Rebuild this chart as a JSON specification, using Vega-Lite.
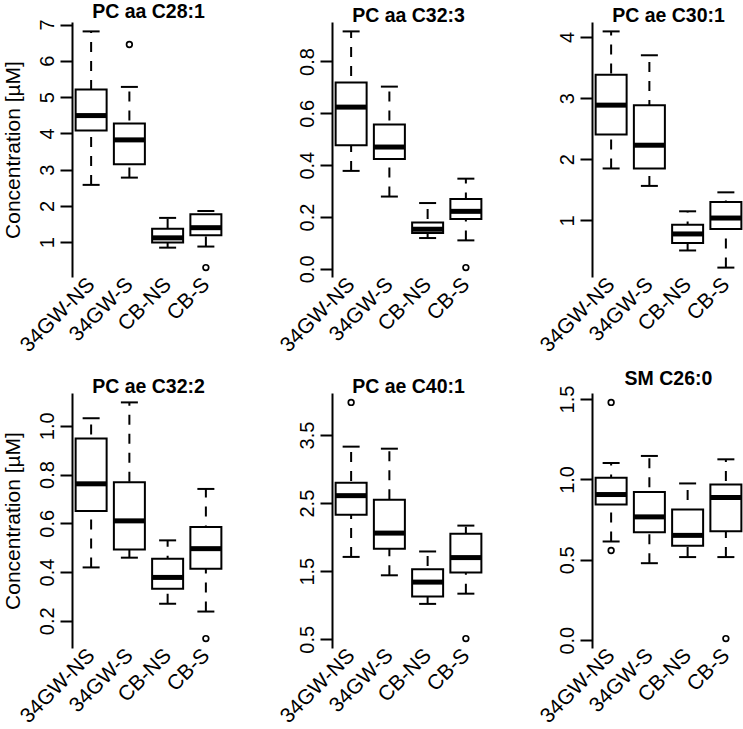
{
  "$schema": "https://vega.github.io/schema/vega-lite/v6.json",
  "background": "white",
  "padding": {"left": 2, "top": 2, "right": 0, "bottom": 0},
  "datasets": {
    "boxes": [
      {"panel": "PC aa C28:1", "group": "34GW-NS", "lo": 2.58, "q1": 4.08, "med": 4.49, "q3": 5.21, "hi": 6.81},
      {"panel": "PC aa C28:1", "group": "34GW-S", "lo": 2.78, "q1": 3.15, "med": 3.82, "q3": 4.27, "hi": 5.28},
      {"panel": "PC aa C28:1", "group": "CB-NS", "lo": 0.85, "q1": 0.99, "med": 1.12, "q3": 1.37, "hi": 1.67},
      {"panel": "PC aa C28:1", "group": "CB-S", "lo": 0.88, "q1": 1.19, "med": 1.40, "q3": 1.77, "hi": 1.86},
      {"panel": "PC aa C32:3", "group": "34GW-NS", "lo": 0.378, "q1": 0.477, "med": 0.624, "q3": 0.719, "hi": 0.916},
      {"panel": "PC aa C32:3", "group": "34GW-S", "lo": 0.279, "q1": 0.424, "med": 0.47, "q3": 0.557, "hi": 0.703},
      {"panel": "PC aa C32:3", "group": "CB-NS", "lo": 0.119, "q1": 0.138, "med": 0.153, "q3": 0.179, "hi": 0.254},
      {"panel": "PC aa C32:3", "group": "CB-S", "lo": 0.11, "q1": 0.192, "med": 0.222, "q3": 0.27, "hi": 0.348},
      {"panel": "PC ae C30:1", "group": "34GW-NS", "lo": 1.85, "q1": 2.405, "med": 2.885, "q3": 3.38, "hi": 4.09},
      {"panel": "PC ae C30:1", "group": "34GW-S", "lo": 1.565, "q1": 1.85, "med": 2.23, "q3": 2.885, "hi": 3.70},
      {"panel": "PC ae C30:1", "group": "CB-NS", "lo": 0.51, "q1": 0.63, "med": 0.78, "q3": 0.93, "hi": 1.15},
      {"panel": "PC ae C30:1", "group": "CB-S", "lo": 0.23, "q1": 0.86, "med": 1.04, "q3": 1.30, "hi": 1.46},
      {"panel": "PC ae C32:2", "group": "34GW-NS", "lo": 0.419, "q1": 0.65, "med": 0.762, "q3": 0.948, "hi": 1.031},
      {"panel": "PC ae C32:2", "group": "34GW-S", "lo": 0.459, "q1": 0.493, "med": 0.61, "q3": 0.768, "hi": 1.096},
      {"panel": "PC ae C32:2", "group": "CB-NS", "lo": 0.27, "q1": 0.332, "med": 0.378, "q3": 0.455, "hi": 0.53},
      {"panel": "PC ae C32:2", "group": "CB-S", "lo": 0.238, "q1": 0.414, "med": 0.496, "q3": 0.585, "hi": 0.741},
      {"panel": "PC ae C40:1", "group": "34GW-NS", "lo": 1.71, "q1": 2.33, "med": 2.61, "q3": 2.80, "hi": 3.33},
      {"panel": "PC ae C40:1", "group": "34GW-S", "lo": 1.44, "q1": 1.83, "med": 2.06, "q3": 2.55, "hi": 3.30},
      {"panel": "PC ae C40:1", "group": "CB-NS", "lo": 1.02, "q1": 1.13, "med": 1.34, "q3": 1.53, "hi": 1.79},
      {"panel": "PC ae C40:1", "group": "CB-S", "lo": 1.17, "q1": 1.48, "med": 1.70, "q3": 2.05, "hi": 2.17},
      {"panel": "SM C26:0", "group": "34GW-NS", "lo": 0.614, "q1": 0.844, "med": 0.906, "q3": 1.011, "hi": 1.102},
      {"panel": "SM C26:0", "group": "34GW-S", "lo": 0.479, "q1": 0.671, "med": 0.767, "q3": 0.921, "hi": 1.146},
      {"panel": "SM C26:0", "group": "CB-NS", "lo": 0.517, "q1": 0.5875, "med": 0.652, "q3": 0.8125, "hi": 0.975},
      {"panel": "SM C26:0", "group": "CB-S", "lo": 0.517, "q1": 0.677, "med": 0.8875, "q3": 0.969, "hi": 1.125}
    ],
    "outliers": [
      {"panel": "PC aa C28:1", "group": "34GW-S", "value": 6.45},
      {"panel": "PC aa C28:1", "group": "CB-S", "value": 0.30},
      {"panel": "PC aa C32:3", "group": "CB-S", "value": 0.005},
      {"panel": "PC ae C32:2", "group": "CB-S", "value": 0.127},
      {"panel": "PC ae C40:1", "group": "34GW-NS", "value": 3.98},
      {"panel": "PC ae C40:1", "group": "CB-S", "value": 0.51},
      {"panel": "SM C26:0", "group": "34GW-NS", "value": 1.479},
      {"panel": "SM C26:0", "group": "34GW-NS", "value": 0.558},
      {"panel": "SM C26:0", "group": "CB-S", "value": 0.01}
    ]
  },
  "columns": 3,
  "spacing": {"row": 116, "column": 107},
  "bounds": "flush",
  "concat": [
    {
      "width": 153, "height": 255,
      "title": "PC aa C28:1",
      "encoding": {"x": {"field": "group", "type": "nominal", "title": null, "scale": {"type": "point", "padding": 0.5, "domain": ["34GW-NS", "34GW-S", "CB-NS", "CB-S"]}}},
      "layer": [
        {"data": {"name": "boxes"}, "transform": [{"filter": "datum.panel === 'PC aa C28:1'"}],
         "mark": {"type": "rule", "strokeDash": [10, 9], "strokeWidth": 2, "color": "black", "opacity": 1},
         "encoding": {"y": {"field": "lo", "type": "quantitative", "title": "Concentration [µM]", "scale": {"zero": false, "nice": false, "padding": 9.4}, "axis": {"values": [1, 2, 3, 4, 5, 6, 7], "format": "d"}}, "y2": {"field": "hi"}}},
        {"data": {"name": "boxes"}, "transform": [{"filter": "datum.panel === 'PC aa C28:1'"}],
         "mark": {"type": "tick", "size": 17, "thickness": 2, "color": "black", "opacity": 1},
         "encoding": {"y": {"field": "lo", "type": "quantitative", "title": "Concentration [µM]"}}},
        {"data": {"name": "boxes"}, "transform": [{"filter": "datum.panel === 'PC aa C28:1'"}],
         "mark": {"type": "tick", "size": 17, "thickness": 2, "color": "black", "opacity": 1},
         "encoding": {"y": {"field": "hi", "type": "quantitative", "title": "Concentration [µM]"}}},
        {"data": {"name": "boxes"}, "transform": [{"filter": "datum.panel === 'PC aa C28:1'"}],
         "mark": {"type": "bar", "size": 31, "fill": "white", "stroke": "black", "strokeWidth": 2, "opacity": 1},
         "encoding": {"y": {"field": "q1", "type": "quantitative", "title": "Concentration [µM]"}, "y2": {"field": "q3"}}},
        {"data": {"name": "boxes"}, "transform": [{"filter": "datum.panel === 'PC aa C28:1'"}],
         "mark": {"type": "tick", "size": 31, "thickness": 5, "color": "black", "opacity": 1},
         "encoding": {"y": {"field": "med", "type": "quantitative", "title": "Concentration [µM]"}}},
        {"data": {"name": "outliers"}, "transform": [{"filter": "datum.panel === 'PC aa C28:1'"}],
         "mark": {"type": "point", "shape": "circle", "filled": false, "stroke": "black", "strokeWidth": 1.7, "size": 32, "opacity": 1},
         "encoding": {"y": {"field": "value", "type": "quantitative", "title": "Concentration [µM]"}}}
      ]
    },
    {
      "width": 153, "height": 255,
      "title": "PC aa C32:3",
      "encoding": {"x": {"field": "group", "type": "nominal", "title": null, "scale": {"type": "point", "padding": 0.5, "domain": ["34GW-NS", "34GW-S", "CB-NS", "CB-S"]}}},
      "layer": [
        {"data": {"name": "boxes"}, "transform": [{"filter": "datum.panel === 'PC aa C32:3'"}],
         "mark": {"type": "rule", "strokeDash": [10, 9], "strokeWidth": 2, "color": "black", "opacity": 1},
         "encoding": {"y": {"field": "lo", "type": "quantitative", "title": null, "scale": {"zero": false, "nice": false, "padding": 9.4}, "axis": {"values": [0, 0.2, 0.4, 0.6, 0.8], "format": ".1f"}}, "y2": {"field": "hi"}}},
        {"data": {"name": "boxes"}, "transform": [{"filter": "datum.panel === 'PC aa C32:3'"}],
         "mark": {"type": "tick", "size": 17, "thickness": 2, "color": "black", "opacity": 1},
         "encoding": {"y": {"field": "lo", "type": "quantitative", "title": null}}},
        {"data": {"name": "boxes"}, "transform": [{"filter": "datum.panel === 'PC aa C32:3'"}],
         "mark": {"type": "tick", "size": 17, "thickness": 2, "color": "black", "opacity": 1},
         "encoding": {"y": {"field": "hi", "type": "quantitative", "title": null}}},
        {"data": {"name": "boxes"}, "transform": [{"filter": "datum.panel === 'PC aa C32:3'"}],
         "mark": {"type": "bar", "size": 31, "fill": "white", "stroke": "black", "strokeWidth": 2, "opacity": 1},
         "encoding": {"y": {"field": "q1", "type": "quantitative", "title": null}, "y2": {"field": "q3"}}},
        {"data": {"name": "boxes"}, "transform": [{"filter": "datum.panel === 'PC aa C32:3'"}],
         "mark": {"type": "tick", "size": 31, "thickness": 5, "color": "black", "opacity": 1},
         "encoding": {"y": {"field": "med", "type": "quantitative", "title": null}}},
        {"data": {"name": "outliers"}, "transform": [{"filter": "datum.panel === 'PC aa C32:3'"}],
         "mark": {"type": "point", "shape": "circle", "filled": false, "stroke": "black", "strokeWidth": 1.7, "size": 32, "opacity": 1},
         "encoding": {"y": {"field": "value", "type": "quantitative", "title": null}}}
      ]
    },
    {
      "width": 153, "height": 255,
      "title": "PC ae C30:1",
      "encoding": {"x": {"field": "group", "type": "nominal", "title": null, "scale": {"type": "point", "padding": 0.5, "domain": ["34GW-NS", "34GW-S", "CB-NS", "CB-S"]}}},
      "layer": [
        {"data": {"name": "boxes"}, "transform": [{"filter": "datum.panel === 'PC ae C30:1'"}],
         "mark": {"type": "rule", "strokeDash": [10, 9], "strokeWidth": 2, "color": "black", "opacity": 1},
         "encoding": {"y": {"field": "lo", "type": "quantitative", "title": null, "scale": {"zero": false, "nice": false, "padding": 9.4}, "axis": {"values": [1, 2, 3, 4], "format": "d"}}, "y2": {"field": "hi"}}},
        {"data": {"name": "boxes"}, "transform": [{"filter": "datum.panel === 'PC ae C30:1'"}],
         "mark": {"type": "tick", "size": 17, "thickness": 2, "color": "black", "opacity": 1},
         "encoding": {"y": {"field": "lo", "type": "quantitative", "title": null}}},
        {"data": {"name": "boxes"}, "transform": [{"filter": "datum.panel === 'PC ae C30:1'"}],
         "mark": {"type": "tick", "size": 17, "thickness": 2, "color": "black", "opacity": 1},
         "encoding": {"y": {"field": "hi", "type": "quantitative", "title": null}}},
        {"data": {"name": "boxes"}, "transform": [{"filter": "datum.panel === 'PC ae C30:1'"}],
         "mark": {"type": "bar", "size": 31, "fill": "white", "stroke": "black", "strokeWidth": 2, "opacity": 1},
         "encoding": {"y": {"field": "q1", "type": "quantitative", "title": null}, "y2": {"field": "q3"}}},
        {"data": {"name": "boxes"}, "transform": [{"filter": "datum.panel === 'PC ae C30:1'"}],
         "mark": {"type": "tick", "size": 31, "thickness": 5, "color": "black", "opacity": 1},
         "encoding": {"y": {"field": "med", "type": "quantitative", "title": null}}}
      ]
    },
    {
      "width": 153, "height": 255,
      "title": "PC ae C32:2",
      "encoding": {"x": {"field": "group", "type": "nominal", "title": null, "scale": {"type": "point", "padding": 0.5, "domain": ["34GW-NS", "34GW-S", "CB-NS", "CB-S"]}}},
      "layer": [
        {"data": {"name": "boxes"}, "transform": [{"filter": "datum.panel === 'PC ae C32:2'"}],
         "mark": {"type": "rule", "strokeDash": [10, 9], "strokeWidth": 2, "color": "black", "opacity": 1},
         "encoding": {"y": {"field": "lo", "type": "quantitative", "title": "Concentration [µM]", "scale": {"zero": false, "nice": false, "padding": 9.4}, "axis": {"values": [0.2, 0.4, 0.6, 0.8, 1.0], "format": ".1f"}}, "y2": {"field": "hi"}}},
        {"data": {"name": "boxes"}, "transform": [{"filter": "datum.panel === 'PC ae C32:2'"}],
         "mark": {"type": "tick", "size": 17, "thickness": 2, "color": "black", "opacity": 1},
         "encoding": {"y": {"field": "lo", "type": "quantitative", "title": "Concentration [µM]"}}},
        {"data": {"name": "boxes"}, "transform": [{"filter": "datum.panel === 'PC ae C32:2'"}],
         "mark": {"type": "tick", "size": 17, "thickness": 2, "color": "black", "opacity": 1},
         "encoding": {"y": {"field": "hi", "type": "quantitative", "title": "Concentration [µM]"}}},
        {"data": {"name": "boxes"}, "transform": [{"filter": "datum.panel === 'PC ae C32:2'"}],
         "mark": {"type": "bar", "size": 31, "fill": "white", "stroke": "black", "strokeWidth": 2, "opacity": 1},
         "encoding": {"y": {"field": "q1", "type": "quantitative", "title": "Concentration [µM]"}, "y2": {"field": "q3"}}},
        {"data": {"name": "boxes"}, "transform": [{"filter": "datum.panel === 'PC ae C32:2'"}],
         "mark": {"type": "tick", "size": 31, "thickness": 5, "color": "black", "opacity": 1},
         "encoding": {"y": {"field": "med", "type": "quantitative", "title": "Concentration [µM]"}}},
        {"data": {"name": "outliers"}, "transform": [{"filter": "datum.panel === 'PC ae C32:2'"}],
         "mark": {"type": "point", "shape": "circle", "filled": false, "stroke": "black", "strokeWidth": 1.7, "size": 32, "opacity": 1},
         "encoding": {"y": {"field": "value", "type": "quantitative", "title": "Concentration [µM]"}}}
      ]
    },
    {
      "width": 153, "height": 255,
      "title": "PC ae C40:1",
      "encoding": {"x": {"field": "group", "type": "nominal", "title": null, "scale": {"type": "point", "padding": 0.5, "domain": ["34GW-NS", "34GW-S", "CB-NS", "CB-S"]}}},
      "layer": [
        {"data": {"name": "boxes"}, "transform": [{"filter": "datum.panel === 'PC ae C40:1'"}],
         "mark": {"type": "rule", "strokeDash": [10, 9], "strokeWidth": 2, "color": "black", "opacity": 1},
         "encoding": {"y": {"field": "lo", "type": "quantitative", "title": null, "scale": {"zero": false, "nice": false, "padding": 9.4}, "axis": {"values": [0.5, 1.0, 1.5, 2.0, 2.5, 3.0, 3.5, 4.0], "labelExpr": "datum.value % 1 === 0 ? '' : format(datum.value, '.1f')"}}, "y2": {"field": "hi"}}},
        {"data": {"name": "boxes"}, "transform": [{"filter": "datum.panel === 'PC ae C40:1'"}],
         "mark": {"type": "tick", "size": 17, "thickness": 2, "color": "black", "opacity": 1},
         "encoding": {"y": {"field": "lo", "type": "quantitative", "title": null}}},
        {"data": {"name": "boxes"}, "transform": [{"filter": "datum.panel === 'PC ae C40:1'"}],
         "mark": {"type": "tick", "size": 17, "thickness": 2, "color": "black", "opacity": 1},
         "encoding": {"y": {"field": "hi", "type": "quantitative", "title": null}}},
        {"data": {"name": "boxes"}, "transform": [{"filter": "datum.panel === 'PC ae C40:1'"}],
         "mark": {"type": "bar", "size": 31, "fill": "white", "stroke": "black", "strokeWidth": 2, "opacity": 1},
         "encoding": {"y": {"field": "q1", "type": "quantitative", "title": null}, "y2": {"field": "q3"}}},
        {"data": {"name": "boxes"}, "transform": [{"filter": "datum.panel === 'PC ae C40:1'"}],
         "mark": {"type": "tick", "size": 31, "thickness": 5, "color": "black", "opacity": 1},
         "encoding": {"y": {"field": "med", "type": "quantitative", "title": null}}},
        {"data": {"name": "outliers"}, "transform": [{"filter": "datum.panel === 'PC ae C40:1'"}],
         "mark": {"type": "point", "shape": "circle", "filled": false, "stroke": "black", "strokeWidth": 1.7, "size": 32, "opacity": 1},
         "encoding": {"y": {"field": "value", "type": "quantitative", "title": null}}}
      ]
    },
    {
      "width": 153, "height": 255,
      "title": "SM C26:0",
      "encoding": {"x": {"field": "group", "type": "nominal", "title": null, "scale": {"type": "point", "padding": 0.5, "domain": ["34GW-NS", "34GW-S", "CB-NS", "CB-S"]}}},
      "layer": [
        {"data": {"name": "boxes"}, "transform": [{"filter": "datum.panel === 'SM C26:0'"}],
         "mark": {"type": "rule", "strokeDash": [10, 9], "strokeWidth": 2, "color": "black", "opacity": 1},
         "encoding": {"y": {"field": "lo", "type": "quantitative", "title": null, "scale": {"zero": false, "nice": false, "padding": 9.4}, "axis": {"values": [0, 0.5, 1.0, 1.5], "format": ".1f"}}, "y2": {"field": "hi"}}},
        {"data": {"name": "boxes"}, "transform": [{"filter": "datum.panel === 'SM C26:0'"}],
         "mark": {"type": "tick", "size": 17, "thickness": 2, "color": "black", "opacity": 1},
         "encoding": {"y": {"field": "lo", "type": "quantitative", "title": null}}},
        {"data": {"name": "boxes"}, "transform": [{"filter": "datum.panel === 'SM C26:0'"}],
         "mark": {"type": "tick", "size": 17, "thickness": 2, "color": "black", "opacity": 1},
         "encoding": {"y": {"field": "hi", "type": "quantitative", "title": null}}},
        {"data": {"name": "boxes"}, "transform": [{"filter": "datum.panel === 'SM C26:0'"}],
         "mark": {"type": "bar", "size": 31, "fill": "white", "stroke": "black", "strokeWidth": 2, "opacity": 1},
         "encoding": {"y": {"field": "q1", "type": "quantitative", "title": null}, "y2": {"field": "q3"}}},
        {"data": {"name": "boxes"}, "transform": [{"filter": "datum.panel === 'SM C26:0'"}],
         "mark": {"type": "tick", "size": 31, "thickness": 5, "color": "black", "opacity": 1},
         "encoding": {"y": {"field": "med", "type": "quantitative", "title": null}}},
        {"data": {"name": "outliers"}, "transform": [{"filter": "datum.panel === 'SM C26:0'"}],
         "mark": {"type": "point", "shape": "circle", "filled": false, "stroke": "black", "strokeWidth": 1.7, "size": 32, "opacity": 1},
         "encoding": {"y": {"field": "value", "type": "quantitative", "title": null}}}
      ]
    }
  ],
  "config": {
    "view": {"stroke": null},
    "font": "Liberation Sans",
    "axis": {"labelFont": "Liberation Sans", "labelColor": "black", "labelFontSize": 20, "titleFont": "Liberation Sans", "titleFontSize": 21, "titleFontWeight": "normal", "titleColor": "black", "domainColor": "black", "tickColor": "black", "grid": false},
    "axisY": {"labelAngle": -90, "labelAlign": "center", "labelBaseline": "bottom", "tickSize": 12, "tickWidth": 2, "domainWidth": 2, "labelPadding": 3, "titlePadding": 14, "labelOverlap": false},
    "axisX": {"domain": false, "ticks": false, "labelAngle": -45, "labelAlign": "right", "labelBaseline": "middle", "labelPadding": 4, "labelFontSize": 21, "labelOverlap": false},
    "title": {"fontSize": 19.5, "fontWeight": "bold", "font": "Liberation Sans", "color": "black", "offset": -4, "anchor": "middle"}
  }
}
